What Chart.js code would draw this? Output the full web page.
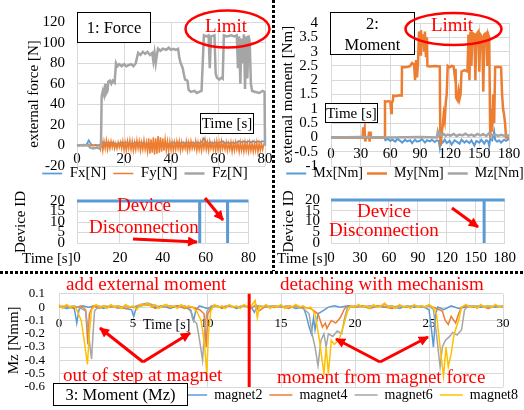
<!DOCTYPE html>
<html><head><meta charset="utf-8">
<script src="https://cdn.jsdelivr.net/npm/chart.js@4"></script>
<style>
html,body{margin:0;padding:0;background:#fff;overflow:hidden;width:524px;height:410px;}
#wrap{position:relative;width:524px;height:410px;overflow:hidden;}
canvas{position:absolute;}
#ov{position:absolute;left:0;top:0;font-family:'Liberation Serif','Times New Roman',serif;}
</style></head><body><div id="wrap">
<canvas id="cF" width="290" height="198" style="left:0px;top:0px"></canvas>
<canvas id="cM" width="252" height="194" style="left:279px;top:0px"></canvas>
<canvas id="cDL" width="250" height="87" style="left:12px;top:180px"></canvas>
<canvas id="cDR" width="242" height="87" style="left:280px;top:180px"></canvas>
<canvas id="cB" width="520" height="146" style="left:5px;top:272px"></canvas>
<svg id="ov" width="524" height="410" viewBox="0 0 524 410">
<defs><marker id="ah" viewBox="0 0 10 10" refX="9" refY="5" markerWidth="11" markerHeight="10" markerUnits="userSpaceOnUse" orient="auto"><path d="M0,0L10,5L0,10z" fill="#ff0000"/></marker></defs>
<line x1="273.5" y1="0" x2="273.5" y2="271" stroke="#000" stroke-width="3" stroke-dasharray="3 2"/>
<line x1="0" y1="272.5" x2="524" y2="272.5" stroke="#000" stroke-width="3" stroke-dasharray="3 2"/>
<rect x="77.5" y="12.5" width="73" height="30" fill="#fff" stroke="#000"/>
<text x="114" y="33" font-size="16.5" text-anchor="middle">1: Force</text>
<ellipse cx="227.5" cy="29" rx="42" ry="18.5" fill="none" stroke="#ff0000" stroke-width="2.5"/>
<text x="226" y="32" fill="#ff0000" font-size="19" text-anchor="middle">Limit</text>
<rect x="200.5" y="113.5" width="53" height="20" fill="#fff" stroke="#000"/>
<text x="227" y="128" font-size="15" text-anchor="middle">Time [s]</text>
<rect x="330.5" y="12.5" width="84" height="42" fill="#fff" stroke="#000"/>
<text x="372.5" y="29" font-size="16.5" text-anchor="middle">2:</text>
<text x="372.5" y="50" font-size="16.5" text-anchor="middle">Moment</text>
<ellipse cx="453.5" cy="29" rx="48" ry="16" fill="none" stroke="#ff0000" stroke-width="2.5"/>
<text x="452" y="31" fill="#ff0000" font-size="19" text-anchor="middle">Limit</text>
<rect x="325.5" y="103.5" width="52" height="19" fill="#fff" stroke="#000"/>
<text x="351.5" y="118" font-size="15" text-anchor="middle">Time [s]</text>
<text x="144" y="211" fill="#ff0000" font-size="19" text-anchor="middle">Device</text>
<text x="144" y="233" fill="#ff0000" font-size="19" text-anchor="middle">Disconnection</text>
<line x1="133" y1="239" x2="197" y2="242" stroke="#ff0000" stroke-width="3" marker-end="url(#ah)"/>
<line x1="205" y1="198" x2="223" y2="220" stroke="#ff0000" stroke-width="3" marker-end="url(#ah)"/>
<text x="384" y="217" fill="#ff0000" font-size="19" text-anchor="middle">Device</text>
<text x="384" y="236" fill="#ff0000" font-size="19" text-anchor="middle">Disconnection</text>
<line x1="452" y1="208" x2="478" y2="227" stroke="#ff0000" stroke-width="3" marker-end="url(#ah)"/>
<text x="22" y="263" font-size="15">Time [s]</text>
<text x="277" y="263" font-size="15">Time [s]</text>
<text x="66" y="290" fill="#ff0000" font-size="19">add external moment</text>
<text x="280" y="290" fill="#ff0000" font-size="19">detaching with mechanism</text>
<text x="63" y="381" fill="#ff0000" font-size="19">out of step at magnet</text>
<text x="277" y="383" fill="#ff0000" font-size="19">moment from magnet force</text>
<text x="143" y="329" font-size="14">Time [s]</text>
<line x1="143" y1="362" x2="100" y2="328" stroke="#ff0000" stroke-width="3" marker-end="url(#ah)"/>
<line x1="143" y1="362" x2="190" y2="333" stroke="#ff0000" stroke-width="3" marker-end="url(#ah)"/>
<line x1="380" y1="362" x2="336" y2="339" stroke="#ff0000" stroke-width="3" marker-end="url(#ah)"/>
<line x1="380" y1="362" x2="428" y2="337" stroke="#ff0000" stroke-width="3" marker-end="url(#ah)"/>
<rect x="53.5" y="383.5" width="134" height="22" fill="#fff" stroke="#000"/>
<text x="120.5" y="400" font-size="16.5" text-anchor="middle">3: Moment (Mz)</text>
</svg>
</div>
<script>
// ---------------- DATA ----------------
// Force chart (time [s], force [N])
const FX_STEP = 1;
const fxValues = [0,0,0.5,0,0.5,5,1,0,0.5,0, 1,3,2,3,2,3,2,1,2,3, 2,3,2,1,2,3,2,3,2,1, 2,1,2,1,2,1,0,1,2,1, 2,3,2,3,2,3,2,3,2,3, 2,3,2,3,7,3,2,3,2,3, 2,3,4,2,3,2,3,2,3,4, 3,4,3,4,3,4,3,4,3,4, 4];
const FY_STEP = 0.5;
const fyValues = [0,0.5,-0.5,0,0.3,-0.4,0,0.5,-0.3,0,1,-1,0.5,0,-0.5,0.3,0,-0.4,0.2,0,
 -4,5,-5,4,-3,5,-4,3,-3,4,-2,3,-3,2,-3,3,-2,3,-3,4,
 -4,3,-5,4,-3,5,-4,4,-5,3,-4,5,-3,4,-5,3,-4,5,-4,3,
 -6,7,-8,6,-7,8,-9,7,-8,9,-7,8,-6,7,-5,6,-5,4,-5,4,
 -4,3,-5,3,-4,4,-3,4,-5,3,-4,2,-3,4,-5,3,-4,4,-3,2,
 -3,4,-5,3,-4,3,-5,4,-3,5,-4,3,-5,4,-3,2,-4,3,-5,4,
 -4,3,-5,4,-3,2,-4,3,-5,2,-4,3,-6,2,-5,3,-4,2,-6,3,
 -5,2,-6,3,-5,2,-6,3,-5,2,-6,2,-5,3,-6,2,-5,2,-4,1, 0];
const fzPairs = [[0,0],[3,0.5],[5,0],[5.5,-2],[7,-3],[8.5,-2],[9.5,-3],[10.2,0],[10.5,48],[11,53],[11.5,49],[12,60],[12.3,50],[13,53],[13.3,62],[14,63],[14.6,60],[15.2,63],[16,61],[16.6,80],[17.2,77],[18,79],[19,77],[20,79],[21,77],[22,78],[23,79],[24,77],[25,80],[25.6,86],[26,90],[27,88],[28,91],[29,89],[30,91],[31,88],[32,90],[32.5,82],[33,90],[33.5,80],[34,88],[34.5,94],[35.5,92],[36.5,94],[38,93],[39,95],[40,93],[41,94],[42,93],[43,94],[43.5,86],[44,81],[44.5,78],[45,75],[45.5,69],[46,64],[47,63],[47.5,54],[48.5,52],[50,53],[51,51],[52,52],[53,53],[53.5,80],[54,107],[55,106],[56,107],[56.5,75],[57,106],[58.5,107],[59,70],[59.5,66],[60.5,64],[61.5,66],[62,65],[62.5,107],[64,106],[65.5,107],[67,106],[68,107],[68.5,75],[69,106],[69.5,60],[70,104],[70.5,80],[71,108],[71.5,55],[72,106],[72.5,65],[73,107],[73.5,100],[74,60],[74.5,53],[76,52],[77.5,51],[79,53],[79.8,52],[80,0]];
const forceXTicks = {min:0, max:80, step:20};
const forceYTicks = {min:-20, max:120, step:20};

// Moment chart (time [s], moment [Nm])
const mxPairs = [[0,0],[20,0],[40,0],[54,0],[55,-0.1],[57,-0.05],[60,-0.12],[62,-0.08],[65,-0.15],[67,-0.05],[70,-0.12],[72,-0.18],[75,-0.08],[77,-0.14],[80,-0.1],[82,-0.2],[85,-0.08],[87,-0.15],[90,-0.12],[92,-0.06],[95,-0.18],[97,-0.1],[100,-0.14],[102,-0.08],[105,-0.16],[107,-0.1],[109,-0.12],[110,-0.35],[111,-0.1],[113,-0.18],[115,-0.08],[117,-0.2],[120,-0.12],[122,-0.25],[125,-0.1],[127,-0.15],[130,-0.22],[132,-0.08],[135,-0.18],[137,-0.12],[140,-0.2],[142,-0.1],[145,-0.28],[147,-0.12],[150,-0.18],[152,-0.08],[155,-0.22],[157,-0.1],[159,-0.15],[160,-0.3],[161,-0.05],[163,-0.1],[165,0.2],[166,-0.08],[168,-0.15],[170,-0.1],[172,-0.18],[175,-0.08],[177,-0.12],[180,-0.05]];
const myPairs = [[0,0],[32,0],[32.5,0.35],[33,0.1],[34,0.3],[34.5,-0.1],[35,0],[38,0],[38.5,0.2],[39,-0.15],[40,0.2],[40.5,0],[54,0],[54.6,1.26],[56,1.25],[58,1.27],[60,1.24],[61,0.85],[61.5,1.25],[62.5,1.26],[63,1.46],[66,1.45],[69,1.47],[71.5,1.46],[71.8,2.46],[75,2.45],[78,2.47],[80,2.5],[82,2.6],[84,2.55],[85,2.0],[86,2.7],[87,2.1],[88,2.6],[89,3.7],[90,2.9],[91,3.75],[92,3.2],[93,3.6],[94,3.0],[95,3.7],[96,2.8],[97,3.5],[97.5,2.5],[100,2.48],[105,2.5],[110,2.48],[110.5,0],[111,-0.3],[112,0.2],[113,0.4],[114,0.8],[115,0.6],[116,1.2],[117,1.5],[118,2.5],[120,2.45],[122,2.5],[124,2.48],[125,2.2],[126,2.4],[126.5,1.4],[128,1.3],[129,1.6],[130,1.35],[131,1.5],[132,2.3],[135,2.35],[138,2.3],[139,3.6],[140,2.0],[141,3.7],[142,2.5],[143,3.65],[145,3.6],[146,2.0],[147,3.6],[149,3.7],[150,2.3],[151,3.6],[153,3.5],[154,1.6],[155,3.6],[157,3.65],[158,2.5],[159,3.6],[160,3.5],[161,0],[162,1.0],[163,0.2],[164,1.5],[165,0.5],[166,2.46],[170,2.47],[172,2.45],[173,1.5],[174,1.0],[175,0.8],[176,0.5],[177,0],[180,0]];
const mzPairs = [[0,0],[30,0.01],[60,0],[90,0.01],[107,0],[108,0.2],[109,0.08],[110,0.15],[112,0.06],[114,0.12],[116,0.05],[118,0.1],[121,0.06],[124,0.12],[127,0.05],[130,0.1],[133,0.07],[136,0.13],[139,0.06],[142,0.1],[145,0.05],[148,0.12],[151,0.07],[154,0.11],[157,0.05],[160,0.15],[163,0.06],[166,0.1],[169,0.05],[172,0.09],[175,0.06],[178,0.08],[180,0.05]];
const momentXTicks = {min:0, max:180, step:30};
const momentYTicks = {min:-1, max:4, step:0.5};

// Device ID panels
const deviceLeftPairs = [[0,20],[57.2,20],[57.2,0],[57.3,20],[70.2,20],[70.2,0],[70.3,20],[80,20]];
const deviceRightPairs = [[0,20],[158.6,20],[158.6,0],[158.7,20],[180,20]];
const deviceYTicks = {min:0, max:20, step:5};

// Bottom chart Mz per magnet (time [s], Mz [Nmm])
const magnet2 = [[0,0.01],[0.5,-0.01],[1.0,0],[1.1,-0.05],[1.2,-0.12],[1.35,-0.02],[1.6,0.01],[2.0,0],[2.5,0.01],[3.0,-0.01],[3.5,0.01],[4.0,0],[4.5,-0.01],[4.9,-0.02],[5.05,-0.07],[5.2,-0.01],[5.5,0.01],[6.0,0.02],[6.5,0],[7.0,0.01],[7.5,-0.01],[8.0,0.01],[8.5,0],[8.9,-0.02],[9.1,-0.1],[9.25,-0.02],[9.5,0.01],[10.0,-0.01],[10.5,0.01],[11.0,0],[11.5,0.01],[12.0,-0.01],[12.5,0.01],[13.0,0],[13.2,-0.04],[13.4,0.01],[14.0,0],[14.5,0.01],[15.0,0],[15.5,0.01],[16.0,-0.01],[16.5,0],[16.7,-0.06],[16.9,-0.15],[17.05,-0.2],[17.2,-0.08],[17.3,-0.17],[17.5,-0.05],[17.8,-0.03],[18.2,0],[18.6,0.01],[19.0,0],[19.5,0.01],[20.0,0],[20.5,0.01],[21.0,-0.01],[21.5,0.01],[22.0,0],[22.5,0.01],[23.0,-0.01],[23.5,0.01],[24.0,0],[24.5,0.01],[25.0,-0.02],[25.15,-0.15],[25.3,-0.3],[25.45,-0.05],[25.6,0],[26.0,-0.02],[26.5,0.01],[27.0,-0.01],[27.5,0],[28.0,0.01],[28.5,0],[29.0,0.01],[29.5,0],[30.0,0.01]];
const magnet4 = [[0,0],[0.5,0.01],[1.0,-0.01],[1.5,0.01],[1.8,-0.02],[1.95,-0.28],[2.05,-0.05],[2.3,0.01],[2.7,-0.01],[3.0,0.01],[3.5,0],[4.0,0.01],[4.5,-0.01],[5.0,0],[5.5,0.01],[6.0,0.02],[6.5,-0.01],[7.0,0.01],[7.5,0],[8.0,0.01],[8.5,-0.01],[9.0,0],[9.5,-0.02],[9.8,-0.05],[9.95,-0.3],[10.05,-0.05],[10.3,0],[10.7,0.01],[11.0,-0.01],[11.5,0.01],[12.0,0],[12.5,0.01],[13.0,-0.01],[13.3,0.02],[13.5,-0.03],[14.0,0.01],[14.5,0],[15.0,0.01],[15.5,-0.01],[16.0,0.01],[16.5,0],[17.0,-0.01],[17.5,-0.05],[17.8,-0.15],[18.0,-0.12],[18.1,-0.16],[18.4,-0.1],[18.7,-0.12],[19.0,-0.08],[19.3,-0.01],[19.6,0.01],[20.0,0],[20.5,0.01],[21.0,-0.01],[21.5,0.01],[22.0,0],[22.5,-0.01],[23.0,0.01],[23.5,0],[24.0,0.01],[24.5,0],[25.0,0.01],[25.5,-0.01],[25.9,-0.03],[26.1,-0.1],[26.3,-0.13],[26.5,-0.07],[26.8,-0.12],[27.0,-0.05],[27.2,0],[27.5,0.01],[28.0,0],[28.5,0.01],[29.0,-0.01],[29.5,0.01],[30.0,0]];
const magnet6 = [[0,0.01],[0.5,0],[1.0,0.01],[1.5,-0.01],[1.8,-0.03],[1.95,-0.15],[2.1,-0.3],[2.2,-0.39],[2.3,-0.2],[2.4,-0.03],[2.7,0.01],[3.0,0],[3.5,0.01],[4.0,-0.01],[4.5,0.01],[5.0,0],[5.5,0.02],[6.0,0.03],[6.5,0.01],[7.0,0],[7.5,0.01],[8.0,0],[8.5,0.01],[8.9,-0.03],[9.05,-0.1],[9.3,-0.12],[9.5,-0.25],[9.7,-0.4],[9.85,-0.15],[10.0,-0.03],[10.3,0.01],[10.8,0],[11.5,0.01],[12.0,0],[12.5,0.01],[13.0,0],[13.5,0.01],[14.0,0],[14.5,0.01],[15.0,0],[15.5,0.01],[16.0,0],[16.5,-0.01],[16.9,-0.05],[17.1,-0.2],[17.3,-0.3],[17.5,-0.44],[17.7,-0.25],[17.9,-0.2],[18.05,-0.3],[18.2,-0.2],[18.5,-0.22],[18.8,-0.18],[19.1,-0.2],[19.3,-0.08],[19.5,0],[20.0,0.01],[20.5,0],[21.0,0.01],[21.5,0],[22.0,0.02],[22.5,0],[23.0,0.01],[23.5,0],[24.0,0.01],[24.5,0],[25.0,0.01],[25.3,-0.02],[25.5,-0.2],[25.75,-0.45],[25.9,-0.3],[26.1,-0.25],[26.4,-0.22],[26.6,-0.19],[26.9,-0.21],[27.2,-0.17],[27.4,-0.02],[27.7,0.01],[28.0,0],[28.5,0.01],[29.0,0],[29.5,0.01],[30.0,0]];
const magnet8 = [[0,0.02],[0.25,-0.01],[0.5,0.02],[0.75,0],[1.0,0.01],[1.2,-0.02],[1.5,-0.1],[1.7,-0.25],[1.92,-0.43],[2.05,-0.2],[2.2,-0.02],[2.5,0.02],[2.75,0],[3.0,0.01],[3.25,-0.01],[3.5,0.02],[3.75,0],[4.0,0.01],[4.25,-0.01],[4.5,0.02],[4.75,0],[5.0,0.01],[5.25,-0.02],[5.5,0.02],[5.75,0.01],[6.0,0.03],[6.25,0],[6.5,0.02],[6.75,-0.01],[7.0,0.01],[7.25,0.02],[7.5,0],[7.75,0.01],[8.0,-0.01],[8.25,0.02],[8.5,0],[8.75,0.01],[9.0,0],[9.3,-0.03],[9.6,-0.1],[9.85,-0.3],[9.98,-0.5],[10.1,-0.2],[10.25,-0.03],[10.5,0.02],[10.75,0],[11.0,0.01],[11.25,-0.01],[11.5,0.02],[11.75,0],[12.0,0.01],[12.25,-0.01],[12.5,0.02],[12.75,0],[13.0,0.01],[13.25,0.05],[13.4,-0.08],[13.55,0.01],[13.75,0],[14.0,0.02],[14.25,-0.01],[14.5,0.01],[14.75,0],[15.0,0.02],[15.25,-0.01],[15.5,0.01],[15.75,0],[16.0,0.02],[16.25,0],[16.5,0.01],[16.75,-0.01],[17.0,0],[17.3,-0.05],[17.6,-0.25],[17.9,-0.5],[18.05,-0.3],[18.2,-0.5],[18.4,-0.25],[18.6,-0.28],[18.9,-0.25],[19.2,-0.15],[19.5,-0.03],[19.75,0.01],[20.0,0],[20.25,0.02],[20.5,0],[20.75,0.01],[21.0,-0.01],[21.25,0.02],[21.5,0],[21.75,0.01],[22.0,0.03],[22.25,0],[22.5,0.01],[22.75,-0.01],[23.0,0.02],[23.25,0],[23.5,0.01],[23.75,-0.01],[24.0,0.02],[24.25,0],[24.5,0.01],[24.75,0],[25.0,0.02],[25.25,0],[25.5,-0.05],[25.75,-0.3],[25.98,-0.52],[26.15,-0.3],[26.3,-0.45],[26.5,-0.35],[26.7,-0.2],[27.0,-0.1],[27.2,0],[27.5,0.02],[27.75,0],[28.0,0.01],[28.25,-0.01],[28.5,0.02],[28.75,0],[29.0,0.01],[29.25,0],[29.5,0.02],[29.75,0],[30.0,0.01]];
const markerLinePairs = [[12.85,0.1],[12.85,-0.6]];
const mzXTicks = {min:0, max:30, step:5};
const mzYTicks = {min:-0.6, max:0.1, step:0.1};

// ---------------- STYLE / BUILD ----------------
Chart.defaults.font.family = "'Liberation Serif','Times New Roman',serif";
Chart.defaults.color = '#000';
const GRID = '#d9d9d9';
const BLUE='#5B9BD5', ORANGE='#ED7D31', GRAY='#A5A5A5', YELLOW='#FFC000';
const xy = a => a.map(p => ({x:p[0], y:p[1]}));
const stepPts = (vals, step) => vals.map((v,i) => ({x:i*step, y:v}));
const fmt = v => String(Math.round(v*1000)/1000);

const legendShift = { id:'legendShift', afterLayout(chart, args, opts){ const dy = (opts && opts.dy) || 0; if (chart.legend && dy) { chart.legend.top += dy; chart.legend.bottom += dy; } } };

function ds(label, data, color, width, order){
  return {label, data, borderColor:color, backgroundColor:color, borderWidth:width, pointRadius:0, tension:0, order, clip:4};
}
function yAxis(t, width, title, pad, fs){
  return {type:'linear', position:'left', min:t.min, max:t.max,
    ticks:{stepSize:t.step, padding:pad, font:{size:fs}, color:'#000', autoSkip:false, callback:fmt},
    grid:{color:GRID, drawTicks:false}, border:{color:GRID},
    title:{display:!!title, text:title, font:{size:15}, padding:0, color:'#000'},
    afterFit(s){ s.width = width; }};
}
function xAxisAtZero(t, pad, fs){
  return {type:'linear', position:{y:0}, min:t.min, max:t.max,
    ticks:{stepSize:t.step, padding:pad, font:{size:fs}, maxRotation:0, autoSkip:false, color:'#000', callback:fmt},
    grid:{color:GRID, drawTicks:false}, border:{color:GRID}};
}
function xAxisBottom(t, pad, fs, h){
  return {type:'linear', position:'bottom', min:t.min, max:t.max,
    ticks:{stepSize:t.step, padding:pad, font:{size:fs}, maxRotation:0, autoSkip:false, color:'#000', callback:fmt},
    grid:{color:GRID, drawTicks:false}, border:{color:GRID},
    afterFit(s){ s.height = h; }};
}
function dummyRight(w){
  return {type:'linear', position:'right', display:true, grid:{display:false, drawTicks:false}, border:{display:false}, ticks:{display:false}, afterFit(s){ s.width = w; }};
}
function legendOpts(fs, pw, pad, align){
  return {display:true, position:'bottom', align:align||'center',
    labels:{usePointStyle:true, pointStyle:'line', pointStyleWidth:pw, padding:pad, font:{size:fs}, color:'#000',
      sort:(a,b)=>a.datasetIndex-b.datasetIndex, filter:(it)=>it.text!==''}};
}
const base = {responsive:false, animation:false, devicePixelRatio:1, events:[]};

new Chart(document.getElementById('cF'), {
  type:'line',
  data:{datasets:[
    ds('Fx[N]', stepPts(fxValues, FX_STEP), BLUE, 1.75, 3),
    ds('Fy[N]', stepPts(fyValues, FY_STEP), ORANGE, 1.5, 2),
    ds('Fz[N]', xy(fzPairs), GRAY, 2.5, 1)]},
  options:Object.assign({}, base, {
    layout:{padding:{left:25, top:22, right:25, bottom:0}},
    scales:{x:xAxisAtZero(forceXTicks, 5, 15), y:yAxis(forceYTicks, 52, 'external force [N]', 12, 15)},
    plugins:{legend:legendOpts(15, 20, 7), tooltip:{enabled:false}, legendShift:{dy:-7}}}),
  plugins:[legendShift]
});

new Chart(document.getElementById('cM'), {
  type:'line',
  data:{datasets:[
    ds('Mx[Nm]', xy(mxPairs), BLUE, 2, 3),
    ds('My[Nm]', xy(myPairs), ORANGE, 2.5, 2),
    ds('Mz[Nm]', xy(mzPairs), GRAY, 2.5, 1)]},
  options:Object.assign({}, base, {
    layout:{padding:{left:0, top:23, right:0, bottom:0}},
    scales:{x:xAxisAtZero(momentXTicks, 8, 15), y:yAxis(momentYTicks, 52, 'external moment [Nm]', 13, 15), yR:dummyRight(22)},
    plugins:{legend:legendOpts(14, 20, 4), tooltip:{enabled:false}, legendShift:{dy:-3.5}}}),
  plugins:[legendShift]
});

new Chart(document.getElementById('cDL'), {
  type:'line',
  data:{datasets:[ds('Device ID', xy(deviceLeftPairs), BLUE, 3, 1)]},
  options:Object.assign({}, base, {
    layout:{padding:{left:0, top:13, right:12, bottom:0}},
    scales:{x:xAxisBottom(forceXTicks, 6, 15, 24), y:yAxis(deviceYTicks, 65, 'Device ID', 12, 15)},
    plugins:{legend:{display:false}, tooltip:{enabled:false}}})
});

new Chart(document.getElementById('cDR'), {
  type:'line',
  data:{datasets:[ds('Device ID', xy(deviceRightPairs), BLUE, 3, 1)]},
  options:Object.assign({}, base, {
    layout:{padding:{left:0, top:13, right:14, bottom:0}},
    scales:{x:xAxisBottom(momentXTicks, 6, 15, 24), y:yAxis(deviceYTicks, 51, 'Device ID', 11, 15)},
    plugins:{legend:{display:false}, tooltip:{enabled:false}}})
});

new Chart(document.getElementById('cB'), {
  type:'line',
  data:{datasets:[
    ds('magnet2', xy(magnet2), BLUE, 1.5, 5),
    ds('magnet4', xy(magnet4), ORANGE, 1.5, 4),
    ds('magnet6', xy(magnet6), GRAY, 1.5, 3),
    ds('magnet8', xy(magnet8), YELLOW, 1.5, 2),
    ds('', xy(markerLinePairs), '#ff0000', 3, 1)]},
  options:Object.assign({}, base, {
    layout:{padding:{left:0, top:14, right:0, bottom:0}},
    scales:{x:xAxisAtZero(mzXTicks, 9, 13), y:yAxis(mzYTicks, 54, 'Mz [Nmm]', 14, 13), yR:dummyRight(22)},
    plugins:{legend:legendOpts(14, 23, 7, 'end'), tooltip:{enabled:false}, legendShift:{dy:-6}}}),
  plugins:[legendShift]
});
</script>
</body></html>
